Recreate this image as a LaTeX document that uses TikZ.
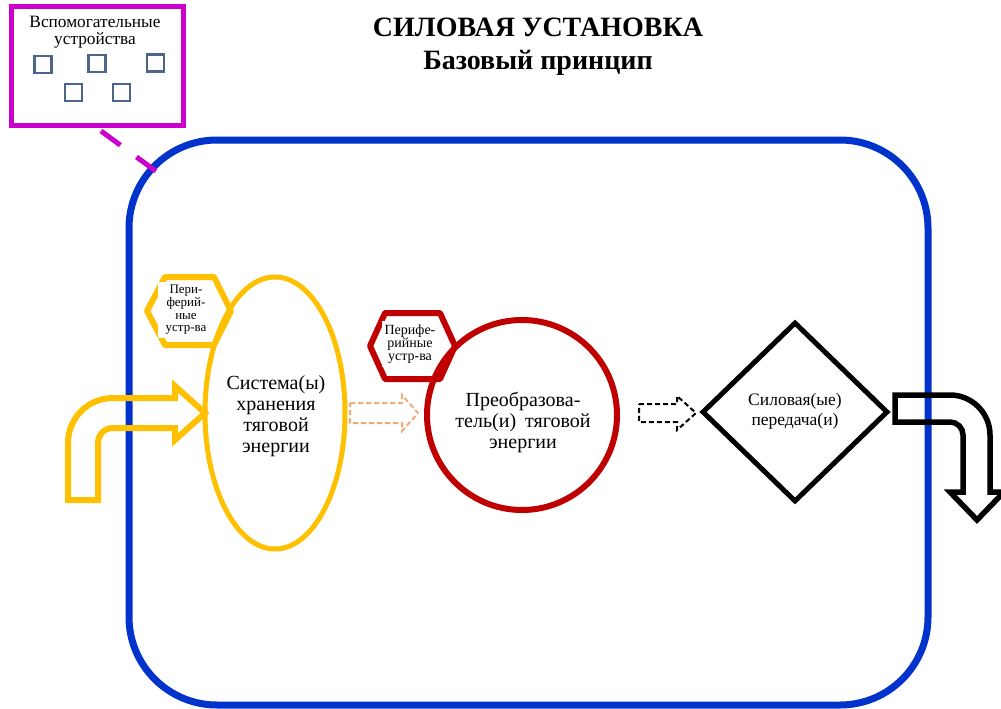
\documentclass[tikz,border=0pt]{standalone}
\usepackage{fontspec}
\setmainfont{Liberation Serif}
\usetikzlibrary{shapes.geometric}
\definecolor{blueframe}{RGB}{0,51,204}
\definecolor{magentabox}{RGB}{204,0,204}
\definecolor{storeyellow}{RGB}{255,192,0}
\definecolor{convred}{RGB}{192,0,0}
\definecolor{lightorange}{RGB}{244,170,120}
\definecolor{slateblue}{RGB}{74,102,140}
\begin{document}
\begin{tikzpicture}[x=1pt,y=-1pt,
  titlefont/.style={font=\bfseries\fontsize{28}{30}\selectfont, anchor=base},
  auxsq/.style={draw=slateblue, line width=2.5, minimum size=17, inner sep=0},
  periph/.style={fill=white, align=center, inner sep=0},
  labeltext/.style={align=center},
  blockdash/.style={line width=2, dash pattern=on 5 off 3, line join=miter}
]
\useasboundingbox (0,0) rectangle (1001,709);
\fill[white] (0,0) rectangle (1001,709);

% title
\node[titlefont] (title) at (538,37) {СИЛОВАЯ УСТАНОВКА};
\node[titlefont] (subtitle) at (538,70) {Базовый принцип};

% main frame
\draw[blueframe, line width=7, rounded corners=88] (129,140) rectangle (928,705);

% auxiliary box
\draw[magentabox, line width=5] (11,7) rectangle (183,125);
\node[labeltext, font=\fontsize{17.3}{17}\selectfont] (auxtext) at (95,32) {Вспомогательные\\устройства};
\node[auxsq] (sq1) at (43,64.5) {};
\node[auxsq] (sq2) at (97,63.5) {};
\node[auxsq] (sq3) at (155.5,63) {};
\node[auxsq] (sq4) at (73.5,92.5) {};
\node[auxsq] (sq5) at (121.5,92.5) {};
\coordinate (dashA) at (101,131);
\coordinate (dashB) at (157,172);
\draw[magentabox, line width=5, dash pattern=on 24 off 20] (dashA) -- (dashB);

% storage system
\draw[storeyellow, line width=6, line join=round] (147,311) -- (165,277) -- (214,277) -- (231,311) -- (214,345) -- (165,345) -- cycle;
\node[periph, minimum width=56, minimum height=56, font=\fontsize{13}{12.6}\selectfont] (periph1) at (186,310) {Пери-\\ферий-\\ные\\устр-ва};
\node[ellipse, draw=storeyellow, line width=5, minimum width=140, minimum height=272, inner sep=0] (store) at (275,413) {};
\node[labeltext, font=\fontsize{20}{21}\selectfont] (storetext) at (276,416) {Система(ы)\\хранения\\тяговой\\энергии};

% input bent arrow
\draw[storeyellow, line width=6, line join=miter] (68,500) -- (68,443) .. controls (68,418) and (88,398) .. (113,398) -- (175,398) -- (175,386) -- (205,413) -- (175,440) -- (175,428) -- (113,428) .. controls (104.7,428) and (98,434.3) .. (98,443) -- (98,500) -- cycle;

% orange dashed arrow
\draw[lightorange, blockdash] (350,403) -- (402,403) -- (402,395) -- (418,413) -- (402,431) -- (402,423) -- (350,423) -- cycle;

% converter
\draw[convred, line width=6, line join=round] (370,346) -- (385,313) -- (440,313) -- (455,346) -- (440,379) -- (385,379) -- cycle;
\node[periph, minimum width=56, minimum height=46, font=\fontsize{14}{13}\selectfont] (periph2) at (410,344) {Перифе-\\рийные\\устр-ва};
\node[circle, draw=convred, line width=6, minimum size=190, inner sep=0] (conv) at (522,415) {};
\node[labeltext, font=\fontsize{20}{21}\selectfont] (convtext) at (523,422) {Преобразова-\\тель(и)\hspace{4pt} тяговой\\энергии};

% black dashed arrow
\draw[black, blockdash] (639,404) -- (677,404) -- (677,396) -- (696,413) -- (677,430) -- (677,422) -- (639,422) -- cycle;

% transmission
\node[diamond, draw=black, line width=5, minimum width=186, minimum height=180, inner sep=0] (trans) at (795,412) {};
\node[labeltext, font=\fontsize{17.5}{20}\selectfont] (transtext) at (795,411) {Силовая(ые)\\передача(и)};

% output bent arrow
\draw[black, line width=5.5, line join=miter] (895,395) -- (950,395) .. controls (972,395) and (990,413) .. (990,435) -- (990,492) -- (1004,492) -- (977,520) -- (950,492) -- (963,492) -- (963,435) .. controls (963,427.8) and (957.2,422) .. (950,422) -- (895,422) -- cycle;
\end{tikzpicture}
\end{document}
